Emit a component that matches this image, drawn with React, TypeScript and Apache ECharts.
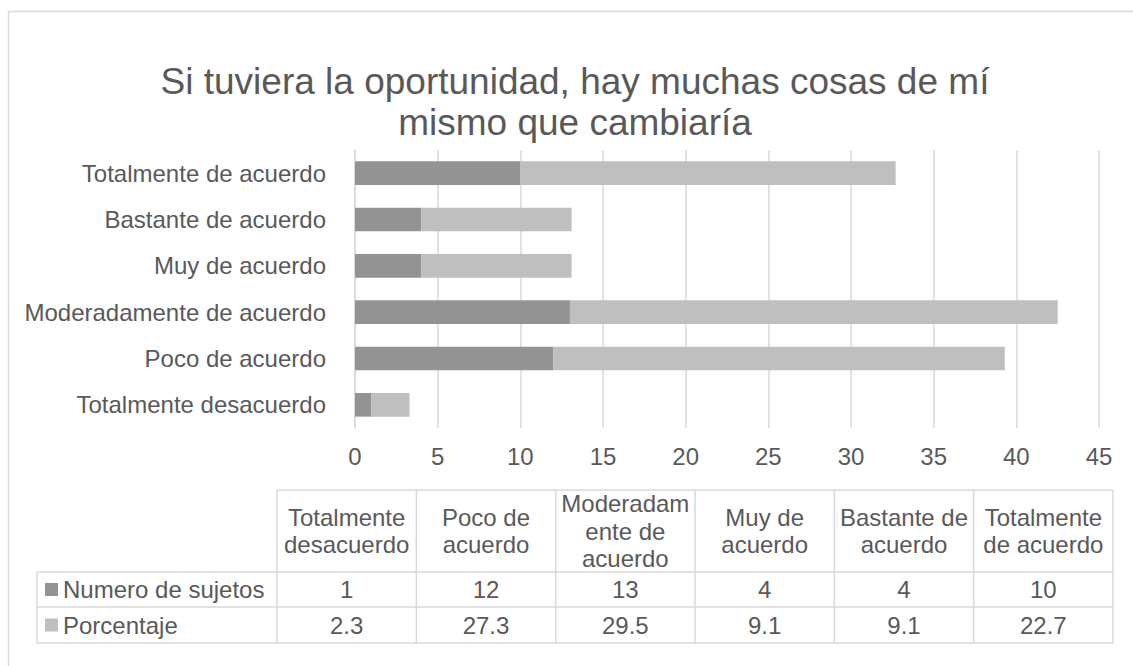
import React, { useEffect, useRef } from "react";
import * as echarts from "echarts";

const categories = [
  "Totalmente desacuerdo",
  "Poco de acuerdo",
  "Moderadamente de acuerdo",
  "Muy de acuerdo",
  "Bastante de acuerdo",
  "Totalmente de acuerdo",
];
const headerLabels = [
  "Totalmente\ndesacuerdo",
  "Poco de\nacuerdo",
  "Moderadam\nente de\nacuerdo",
  "Muy de\nacuerdo",
  "Bastante de\nacuerdo",
  "Totalmente\nde acuerdo",
];
const seriesNames = ["Numero de sujetos", "Porcentaje"];
const sujetos = [1, 12, 13, 4, 4, 10];
const porcentaje = [2.3, 27.3, 29.5, 9.1, 9.1, 22.7];
const xMin = 0;
const xMax = 45;
const xInterval = 5;
const titleText = "Si tuviera la oportunidad, hay muchas cosas de mí\nmismo que cambiaría";

const FONT = '"Liberation Sans", Arial, sans-serif';
const TEXT = "#595959";
const LINE = "#d9d9d9";
const COLORS = ["#939393", "#bfbfbf"];

export default function App() {
  const ref = useRef<HTMLDivElement>(null);
  useEffect(() => {
    if (!ref.current) return;
    const chart = echarts.init(ref.current, null, { renderer: "svg" });

    const tableLeft = 37;
    const labelRight = 277;
    const tableRight = 1113;
    const headTop = 490;
    const row1Top = 572;
    const row2Top = 607;
    const tableBottom = 643;
    const colW = (tableRight - labelRight) / categories.length;

    const lineStyle = { stroke: LINE, lineWidth: 1.5 };
    const elements: any[] = [];
    // outer chart border
    elements.push({ type: "line", shape: { x1: 8, y1: 11.5, x2: 1140, y2: 11.5 }, style: lineStyle, silent: true });
    elements.push({ type: "line", shape: { x1: 8.5, y1: 11, x2: 8.5, y2: 680 }, style: lineStyle, silent: true });
    // title
    elements.push({
      type: "text",
      x: 575,
      y: 61,
      style: {
        text: titleText,
        font: `37px ${FONT}`,
        fill: TEXT,
        align: "center",
        textAlign: "center",
        verticalAlign: "top",
        textVerticalAlign: "top",
        lineHeight: 41,
      },
    });
    // table horizontal lines
    elements.push({ type: "line", shape: { x1: labelRight, y1: headTop, x2: tableRight, y2: headTop }, style: lineStyle });
    [row1Top, row2Top, tableBottom].forEach((y) =>
      elements.push({ type: "line", shape: { x1: tableLeft, y1: y, x2: tableRight, y2: y }, style: lineStyle })
    );
    // vertical lines
    elements.push({ type: "line", shape: { x1: tableLeft, y1: row1Top, x2: tableLeft, y2: tableBottom }, style: lineStyle });
    for (let i = 0; i <= categories.length; i++) {
      const x = labelRight + colW * i;
      elements.push({ type: "line", shape: { x1: x, y1: headTop, x2: x, y2: tableBottom }, style: lineStyle });
    }
    const cellText = (text: string, x: number, y: number) => ({
      type: "text",
      x,
      y,
      style: {
        text,
        font: `24px ${FONT}`,
        fill: TEXT,
        align: "center",
        textAlign: "center",
        verticalAlign: "middle",
        textVerticalAlign: "middle",
        lineHeight: 27.5,
      },
    });
    headerLabels.forEach((h, i) => {
      elements.push(cellText(h, labelRight + colW * (i + 0.5), (headTop + row1Top) / 2));
    });
    const rows = [sujetos, porcentaje];
    const rowTops = [row1Top, row2Top];
    const rowBots = [row2Top, tableBottom];
    rows.forEach((vals, r) => {
      const cy = (rowTops[r] + rowBots[r]) / 2;
      vals.forEach((v, i) => {
        elements.push(cellText(String(v), labelRight + colW * (i + 0.5), cy));
      });
      elements.push({
        type: "rect",
        shape: { x: 45, y: cy - 6.5, width: 13, height: 13 },
        style: { fill: COLORS[r] },
      });
      elements.push({
        type: "text",
        x: 63,
        y: cy,
        style: {
          text: seriesNames[r],
          font: `24px ${FONT}`,
          fill: TEXT,
          align: "left",
          textAlign: "left",
          verticalAlign: "middle",
          textVerticalAlign: "middle",
        },
      });
    });

    chart.setOption({
      animation: false,
      grid: { left: 355, right: 34, top: 150, bottom: 238, containLabel: false },
      xAxis: {
        type: "value",
        min: xMin,
        max: xMax,
        interval: xInterval,
        axisLine: { show: false },
        axisTick: { show: false },
        splitLine: { lineStyle: { color: LINE, width: 1.5 } },
        axisLabel: { color: TEXT, fontSize: 24, fontFamily: FONT, margin: 16 },
      },
      yAxis: {
        type: "category",
        data: categories,
        axisLine: { show: true, lineStyle: { color: LINE, width: 1.5 } },
        axisTick: { show: false },
        axisLabel: { color: TEXT, fontSize: 24, fontFamily: FONT, margin: 29 },
      },
      series: [
        {
          name: seriesNames[0],
          type: "bar",
          stack: "total",
          data: sujetos,
          barWidth: "51%",
          itemStyle: { color: COLORS[0] },
        },
        {
          name: seriesNames[1],
          type: "bar",
          stack: "total",
          data: porcentaje,
          barWidth: "51%",
          itemStyle: { color: COLORS[1] },
        },
      ],
      graphic: { elements },
    });
    return () => chart.dispose();
  }, []);
  return (
    <div
      ref={ref}
      style={{ position: "absolute", left: 0, top: 0, width: 1133, height: 666, background: "#fff" }}
    />
  );
}
